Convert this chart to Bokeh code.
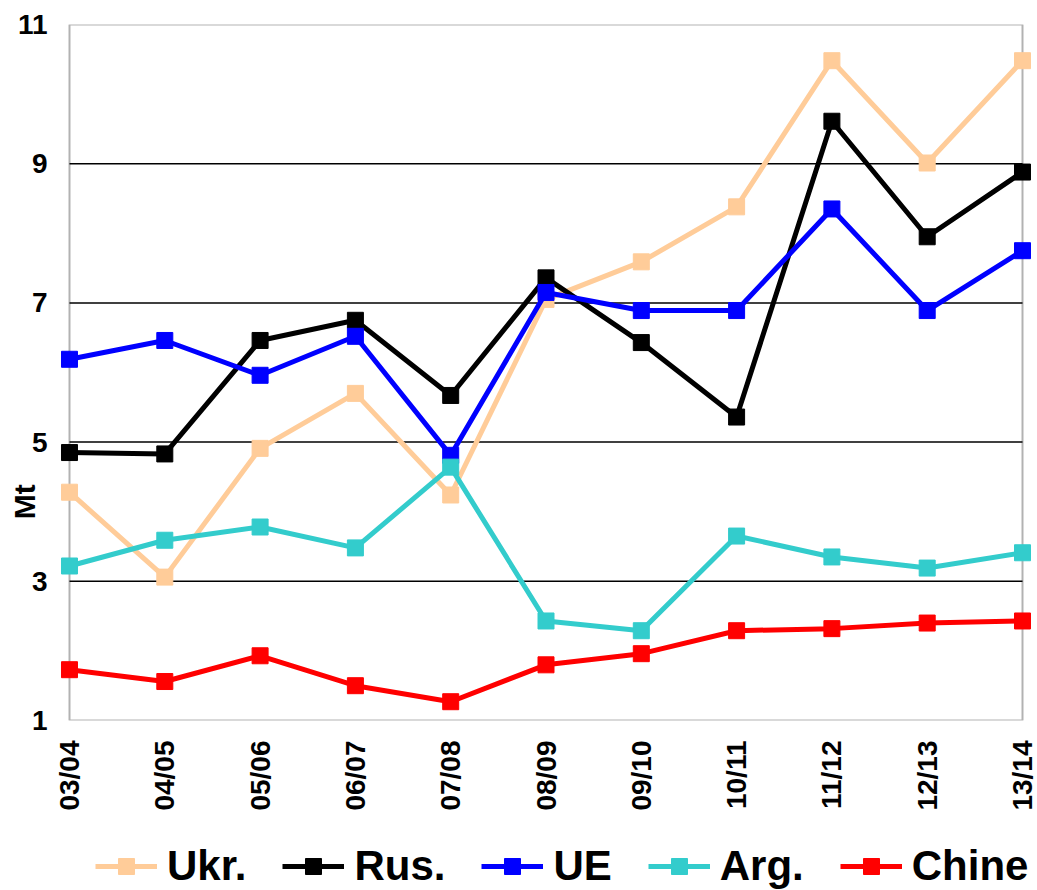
import math
from bokeh.plotting import figure
from bokeh.layouts import column
from bokeh.models import FixedTicker, Legend, LegendItem, BoxAnnotation
from bokeh.embed import file_html
from bokeh.resources import INLINE

seasons = ["03/04", "04/05", "05/06", "06/07", "07/08", "08/09",
           "09/10", "10/11", "11/12", "12/13", "13/14"]
ukr = [4.28, 3.06, 4.91, 5.70, 4.24, 7.05, 7.59, 8.38, 10.48, 9.01, 10.48]
rus = [4.85, 4.83, 6.46, 6.75, 5.67, 7.36, 6.43, 5.36, 9.61, 7.95, 8.88]
ue = [6.19, 6.46, 5.96, 6.52, 4.81, 7.15, 6.89, 6.89, 8.35, 6.89, 7.75]
arg = [3.22, 3.59, 3.78, 3.48, 4.64, 2.43, 2.29, 3.65, 3.35, 3.19, 3.41]
chine = [1.73, 1.56, 1.93, 1.50, 1.27, 1.80, 1.96, 2.29, 2.32, 2.40, 2.43]
y_ticks = [1, 3, 5, 7, 9, 11]
grid_levels = [3, 5, 7, 9]
unit_label = "Mt"

names = ["Ukr.", "Rus.", "UE", "Arg.", "Chine"]
values = [ukr, rus, ue, arg, chine]
colors = ["#FFCC99", "#000000", "#0000FF", "#33CCCC", "#FF0000"]

xs = list(range(len(seasons)))
pad = 0.0944
FONT = "Liberation Sans"

p = figure(width=1037, height=820, output_backend="svg", toolbar_location=None,
           x_range=(xs[0] - pad, xs[-1] + pad), y_range=(y_ticks[0], y_ticks[-1]),
           min_border_left=60, min_border_right=6, min_border_top=24,
           min_border_bottom=100)
p.outline_line_color = None
p.xgrid.grid_line_color = None
p.ygrid.grid_line_color = None

p.segment(x0=[xs[0]] * len(grid_levels), x1=[xs[-1]] * len(grid_levels),
          y0=grid_levels, y1=grid_levels, line_color="black", line_width=1.5)

box = BoxAnnotation(left=xs[0], right=xs[-1], bottom=y_ticks[0], top=y_ticks[-1],
                    fill_color=None, line_color="black", line_width=2,
                    level="underlay")
p.add_layout(box)

for vals, color in zip(values, colors):
    p.line(xs, vals, line_color=color, line_width=5)
    p.scatter(xs, vals, marker="square", size=16, fill_color=color,
              line_color=color)

p.xaxis.ticker = FixedTicker(ticks=xs)
p.xaxis.major_label_overrides = {i: s for i, s in enumerate(seasons)}
p.xaxis.major_label_orientation = math.pi / 2
p.xaxis.major_label_standoff = 20
p.yaxis.ticker = FixedTicker(ticks=y_ticks)
p.yaxis.major_label_standoff = 13
for ax in (p.xaxis[0], p.yaxis[0]):
    ax.axis_line_color = None
    ax.major_tick_line_color = None
    ax.minor_tick_line_color = None
    ax.major_tick_out = 0
    ax.major_tick_in = 0
    ax.minor_tick_out = 0
    ax.minor_tick_in = 0
    ax.major_label_text_font = FONT
    ax.major_label_text_font_style = "bold"
    ax.major_label_text_font_size = "28px"
    ax.major_label_text_color = "black"

# unit label, shifted below the frame centre (trailing no-break spaces)
p.yaxis.axis_label = unit_label + "\u00a0" * 31
p.yaxis.axis_label_text_font = FONT
p.yaxis.axis_label_text_font_style = "bold"
p.yaxis.axis_label_text_font_size = "30px"
p.yaxis.axis_label_text_color = "black"
p.yaxis.axis_label_standoff = -26

# legend strip (separate figure; its renderers lie outside its visible ranges)
lf = figure(width=1037, height=70, output_backend="svg", toolbar_location=None,
            x_range=(-20, -19), y_range=(-20, -19),
            min_border_left=60, min_border_right=6, min_border_top=22,
            min_border_bottom=0)
lf.axis.visible = False
lf.grid.grid_line_color = None
lf.outline_line_color = None
items = []
for name, vals, color in zip(names, values, colors):
    r1 = lf.line(xs, vals, line_color=color, line_width=5)
    r2 = lf.scatter(xs, vals, marker="square", size=16, fill_color=color,
                    line_color=color)
    items.append(LegendItem(label=name, renderers=[r1, r2]))

legend = Legend(items=items, orientation="horizontal", location=(35, 0),
                label_text_font=FONT, label_text_font_style="bold",
                label_text_font_size="42px", label_text_color="black",
                glyph_width=62, glyph_height=40, label_standoff=10,
                spacing=36, padding=0, margin=0,
                border_line_color=None, background_fill_alpha=0)
lf.add_layout(legend, "center")

layout = column(p, lf, spacing=0)
open("out.html", "w").write(file_html(layout, INLINE))
